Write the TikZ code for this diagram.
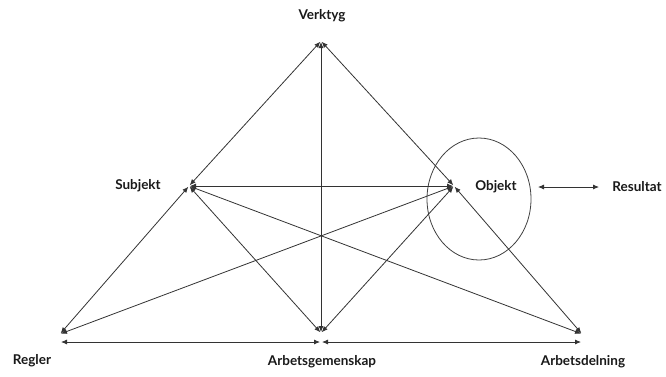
\documentclass[tikz,border=0pt]{standalone}
\usepackage{fontspec}
\setmainfont{Lato}
\usetikzlibrary{arrows.meta}
\begin{document}
\begin{tikzpicture}[x=1pt,y=-1pt,
  lbl/.style={font=\bfseries\fontsize{13.5}{15}\selectfont, text=black!90, inner sep=0pt},
  link/.style={draw=black!80, line width=0.8pt, {Latex[length=6pt,width=5pt]}-{Latex[length=6pt,width=5pt]}, shorten >=1pt, shorten <=1pt}]
\useasboundingbox (0,0) rectangle (666,376);
% vertices
\coordinate (V) at (321,41);
\coordinate (S) at (189,186);
\coordinate (O) at (454,186);
\coordinate (R) at (60,334);
\coordinate (A) at (321,333);
\coordinate (D) at (582,334);
\coordinate (Rh) at (60,342);
\coordinate (Ah) at (321,342);
\coordinate (Dh) at (582,342);
\coordinate (Oe) at (537,187);
\coordinate (Re) at (600,187);
% labels
\node[lbl] (lv) at (322,16) {Verktyg};
\node[lbl] (ls) at (138,186) {Subjekt};
\node[lbl] (lo) at (496,187) {Objekt};
\node[lbl] (lr) at (637,187) {Resultat};
\node[lbl] (lreg) at (32,361) {Regler};
\node[lbl] (la) at (322,362) {Arbetsgemenskap};
\node[lbl] (ld) at (583,362) {Arbetsdelning};
% circle around Objekt
\draw[black!75, line width=0.8pt] (479,199) ellipse [x radius=52, y radius=61];
% connectors
\draw[link] (V) -- (S);
\draw[link] (S) -- (R);
\draw[link] (V) -- (O);
\draw[link] (O) -- (D);
\draw[link] (V) -- (A);
\draw[link] (S) -- (O);
\draw[link] (S) -- (D);
\draw[link] (O) -- (R);
\draw[link] (S) -- (A);
\draw[link] (O) -- (A);
\draw[link] (Rh) -- (Ah);
\draw[link] (Ah) -- (Dh);
\draw[link] (Oe) -- (Re);
\end{tikzpicture}
\end{document}
